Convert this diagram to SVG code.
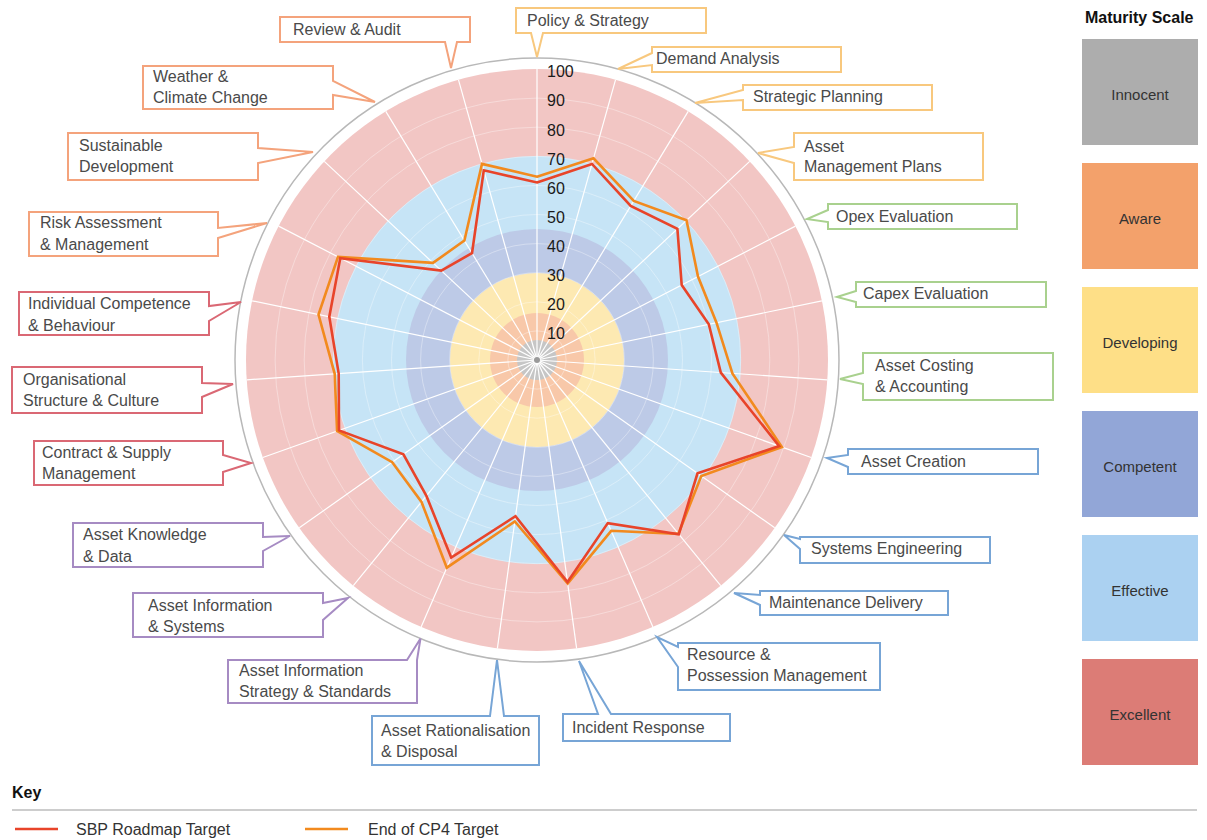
<svg xmlns="http://www.w3.org/2000/svg" width="1207" height="840" viewBox="0 0 1207 840">
<style>
  text { font-family: "Liberation Sans", Arial, sans-serif; font-size: 16px; fill: #4a4a4a; }
  .axis { fill: #1a1a1a; }
  .lg { font-size: 15px; fill: #333; text-anchor: middle; }
  .bold { font-weight: bold; fill: #111; }
  .key { fill: #333; }
  .co { fill: #fff; stroke-width: 2; stroke-linejoin: miter; }
  .c-y { stroke: #f8c87e; }
  .c-s { stroke: #f4a37c; }
  .c-g { stroke: #a9d18e; }
  .c-b { stroke: #77a5d6; }
  .c-p { stroke: #a68bc3; }
  .c-r { stroke: #da6874; }
  .spoke { stroke: #fff; stroke-width: 1.2; }
  .ring { fill: none; stroke: #fff; stroke-opacity: 0.35; stroke-width: 1; }
  .sbp { fill: none; stroke: #e8442a; stroke-width: 2.6; stroke-linejoin: miter; }
  .cp4 { fill: none; stroke: #f28a1e; stroke-width: 2.6; stroke-linejoin: miter; }
</style>

<g id="chart-background">
  <circle cx="537" cy="360" r="302" fill="#fff" stroke="#b8b8b8" stroke-width="1.5"/>
  <circle cx="537" cy="360" r="291" fill="#f2c6c4"/>
  <circle cx="537" cy="360" r="204" fill="#c6e4f6"/>
  <circle cx="537" cy="360" r="131" fill="#bdcae7"/>
  <circle cx="537" cy="360" r="87" fill="#fde9b2"/>
  <circle cx="537" cy="360" r="47" fill="#f8c8a9"/>
  <circle cx="537" cy="360" r="20" fill="#c6c6c6"/>
  <g class="rings">
    <circle class="ring" cx="537" cy="360" r="29.1"/>
    <circle class="ring" cx="537" cy="360" r="58.2"/>
    <circle class="ring" cx="537" cy="360" r="87.3"/>
    <circle class="ring" cx="537" cy="360" r="116.4"/>
    <circle class="ring" cx="537" cy="360" r="145.5"/>
    <circle class="ring" cx="537" cy="360" r="174.6"/>
    <circle class="ring" cx="537" cy="360" r="203.7"/>
    <circle class="ring" cx="537" cy="360" r="232.8"/>
    <circle class="ring" cx="537" cy="360" r="261.9"/>
  </g>
  <g class="spokes">
    <line class="spoke" x1="537" y1="360" x2="537" y2="69"/>
    <line class="spoke" x1="537" y1="360" x2="615.5" y2="79.8"/>
    <line class="spoke" x1="537" y1="360" x2="688.2" y2="111.4"/>
    <line class="spoke" x1="537" y1="360" x2="749.7" y2="161.4"/>
    <line class="spoke" x1="537" y1="360" x2="795.4" y2="226.1"/>
    <line class="spoke" x1="537" y1="360" x2="821.9" y2="300.8"/>
    <line class="spoke" x1="537" y1="360" x2="827.3" y2="379.8"/>
    <line class="spoke" x1="537" y1="360" x2="811.2" y2="457.5"/>
    <line class="spoke" x1="537" y1="360" x2="774.7" y2="527.8"/>
    <line class="spoke" x1="537" y1="360" x2="720.7" y2="585.7"/>
    <line class="spoke" x1="537" y1="360" x2="652.9" y2="626.9"/>
    <line class="spoke" x1="537" y1="360" x2="576.6" y2="648.3"/>
    <line class="spoke" x1="537" y1="360" x2="497.4" y2="648.3"/>
    <line class="spoke" x1="537" y1="360" x2="421.1" y2="626.9"/>
    <line class="spoke" x1="537" y1="360" x2="353.3" y2="585.7"/>
    <line class="spoke" x1="537" y1="360" x2="299.3" y2="527.8"/>
    <line class="spoke" x1="537" y1="360" x2="262.8" y2="457.5"/>
    <line class="spoke" x1="537" y1="360" x2="246.7" y2="379.8"/>
    <line class="spoke" x1="537" y1="360" x2="252.1" y2="300.8"/>
    <line class="spoke" x1="537" y1="360" x2="278.6" y2="226.1"/>
    <line class="spoke" x1="537" y1="360" x2="324.3" y2="161.4"/>
    <line class="spoke" x1="537" y1="360" x2="385.8" y2="111.4"/>
    <line class="spoke" x1="537" y1="360" x2="458.5" y2="79.8"/>
  </g>
  <circle cx="537" cy="360" r="3" fill="#9a9a9a"/>
</g>

<g id="series">
  <polygon id="cp4-target" class="cp4" points="537,176.7 593.5,158.3 633.8,200.9 686.5,220.3 698,276.6 716.5,322.7 732.4,373.4 781.9,447 701.3,476 678.4,533.8 611.2,530.8 567.7,583.4 514.8,521.5 446.8,567.7 421.5,502 392.2,462.2 337.1,431 334.7,373.8 318.5,314.6 338,256.9 433,262.9 464.4,240.6 482,163.9"/>
  <polygon id="sbp-target" class="sbp" points="537,182.5 592,163.9 630.7,205.9 677.4,228.9 681.7,285 708.8,324.3 720.8,372.6 779.2,446.1 697.5,473.3 678.8,534.3 607.8,523.1 567.5,582 515.5,516.2 451.2,557.5 426.4,495.9 403.4,454.3 339,430.4 338.7,373.6 329.3,316.8 340.3,258.1 441.3,270.6 472,253.1 483.8,170.3"/>
</g>

<g id="axis-labels">
  <text class="axis" x="547" y="77.3">100</text>
  <text class="axis" x="547" y="106.4">90</text>
  <text class="axis" x="547" y="135.5">80</text>
  <text class="axis" x="547" y="164.6">70</text>
  <text class="axis" x="547" y="193.7">60</text>
  <text class="axis" x="547" y="222.8">50</text>
  <text class="axis" x="547" y="251.9">40</text>
  <text class="axis" x="547" y="281">30</text>
  <text class="axis" x="547" y="310.1">20</text>
  <text class="axis" x="547" y="339.2">10</text>
</g>

<g id="connectors">
</g>

<g id="callouts">
  <g id="policy-strategy">
    <path class="co c-y" d="M516,8 H706 V33 H543 L537,57 L531,33 H516 Z"/>
    <text x="527" y="26">Policy &amp; Strategy</text>
  </g>
  <g id="demand-analysis">
    <path class="co c-y" d="M652,47 H841 V72 H652 V65 L618,69 L652,53 Z"/>
    <text x="656" y="64">Demand Analysis</text>
  </g>
  <g id="strategic-planning">
    <path class="co c-y" d="M743,85 H932 V110 H743 V100 L695,103 L743,90 Z"/>
    <text x="753" y="102">Strategic Planning</text>
  </g>
  <g id="asset-management-plans">
    <path class="co c-y" d="M794,133 H983 V180 H794 V163 L758,153 L794,147 Z"/>
    <text x="804" y="152">Asset</text>
    <text x="804" y="172">Management Plans</text>
  </g>
  <g id="opex-evaluation">
    <path class="co c-g" d="M828,204 H1017 V229 H828 V222 L807,219 L828,210 Z"/>
    <text x="836" y="222">Opex Evaluation</text>
  </g>
  <g id="capex-evaluation">
    <path class="co c-g" d="M856,282 H1046 V307 H856 V302 L837,297 L856,291 Z"/>
    <text x="863" y="299">Capex Evaluation</text>
  </g>
  <g id="asset-costing">
    <path class="co c-g" d="M863,353 H1053 V400 H863 V384 L840,379 L863,373 Z"/>
    <text x="875" y="371">Asset Costing</text>
    <text x="875" y="392">&amp; Accounting</text>
  </g>
  <g id="asset-creation">
    <path class="co c-b" d="M848,449 H1038 V474 H848 V467 L827,458 L848,455 Z"/>
    <text x="861" y="467">Asset Creation</text>
  </g>
  <g id="systems-engineering">
    <path class="co c-b" d="M800,537 H990 V563 H800 V549 L784,535 L800,539 Z"/>
    <text x="811" y="554">Systems Engineering</text>
  </g>
  <g id="maintenance-delivery">
    <path class="co c-b" d="M760,591 H948 V615 H760 V605 L734,593 L760,595 Z"/>
    <text x="769" y="608">Maintenance Delivery</text>
  </g>
  <g id="resource-possession">
    <path class="co c-b" d="M678,643 H880 V690 H678 V667 L657,637 L678,647 Z"/>
    <text x="687" y="660">Resource &amp;</text>
    <text x="687" y="681">Possession Management</text>
  </g>
  <g id="incident-response">
    <path class="co c-b" d="M563,714 H598 L579,661 L611,714 H730 V741 H563 Z"/>
    <text x="572" y="733">Incident Response</text>
  </g>
  <g id="asset-rationalisation">
    <path class="co c-b" d="M372,716 H490 L497,660 L504,716 H539 V765 H372 Z"/>
    <text x="381" y="736">Asset Rationalisation</text>
    <text x="381" y="757">&amp; Disposal</text>
  </g>
  <g id="asset-information-strategy">
    <path class="co c-p" d="M228,660 H407 L420.5,638.5 L417,660 V703 H228 Z"/>
    <text x="239" y="676">Asset Information</text>
    <text x="239" y="697">Strategy &amp; Standards</text>
  </g>
  <g id="asset-information-systems">
    <path class="co c-p" d="M133,593 H323 V603 L348,598 L323,620 V637 H133 Z"/>
    <text x="148" y="611">Asset Information</text>
    <text x="148" y="632">&amp; Systems</text>
  </g>
  <g id="asset-knowledge">
    <path class="co c-p" d="M73,523 H263 V537 L290,536 L263,551 V567 H73 Z"/>
    <text x="83" y="540">Asset Knowledge</text>
    <text x="83" y="562">&amp; Data</text>
  </g>
  <g id="contract-supply">
    <path class="co c-r" d="M34,441 H223 V455 L251,463 L223,472 V485 H34 Z"/>
    <text x="42" y="458">Contract &amp; Supply</text>
    <text x="42" y="479">Management</text>
  </g>
  <g id="organisational-structure">
    <path class="co c-r" d="M12,367 H202 V383 L233,384 L202,397 V413 H12 Z"/>
    <text x="23" y="385">Organisational</text>
    <text x="23" y="406">Structure &amp; Culture</text>
  </g>
  <g id="individual-competence">
    <path class="co c-r" d="M19,292 H209 V306 L241,302 L209,321 V335 H19 Z"/>
    <text x="28" y="309">Individual Competence</text>
    <text x="28" y="331">&amp; Behaviour</text>
  </g>
  <g id="risk-assessment">
    <path class="co c-s" d="M29,212 H218 V228 L267,223 L218,238 V256 H29 Z"/>
    <text x="40" y="228">Risk Assessment</text>
    <text x="40" y="250">&amp; Management</text>
  </g>
  <g id="sustainable-development">
    <path class="co c-s" d="M68,133 H258 V148 L313,152 L258,163 V180 H68 Z"/>
    <text x="79" y="151">Sustainable</text>
    <text x="79" y="172">Development</text>
  </g>
  <g id="weather-climate">
    <path class="co c-s" d="M143,66 H333 V81 L375,102 L333,95 V109 H143 Z"/>
    <text x="153" y="82">Weather &amp;</text>
    <text x="153" y="103">Climate Change</text>
  </g>
  <g id="review-audit">
    <path class="co c-s" d="M280,17 H470 V42 H457 L451,68 L445,42 H280 Z"/>
    <text x="293" y="35">Review &amp; Audit</text>
  </g>
</g>

<g id="maturity-scale">
  <text class="bold" x="1085" y="23">Maturity Scale</text>
  <g id="scale-innocent"><rect x="1082" y="39" width="116" height="106" fill="#adadad"/><text class="lg" x="1140" y="100">Innocent</text></g>
  <g id="scale-aware"><rect x="1082" y="163" width="116" height="106" fill="#f3a16b"/><text class="lg" x="1140" y="224">Aware</text></g>
  <g id="scale-developing"><rect x="1082" y="287" width="116" height="106" fill="#fedf87"/><text class="lg" x="1140" y="348">Developing</text></g>
  <g id="scale-competent"><rect x="1082" y="411" width="116" height="106" fill="#92a6d7"/><text class="lg" x="1140" y="472">Competent</text></g>
  <g id="scale-effective"><rect x="1082" y="535" width="116" height="106" fill="#abd1f1"/><text class="lg" x="1140" y="596">Effective</text></g>
  <g id="scale-excellent"><rect x="1082" y="659" width="116" height="106" fill="#dc7c76"/><text class="lg" x="1140" y="720">Excellent</text></g>
</g>

<g id="key">
  <text class="bold" x="12" y="798">Key</text>
  <line x1="12" y1="810" x2="1197" y2="810" stroke="#bdbdbd" stroke-width="1.5"/>
  <line x1="15" y1="829" x2="58" y2="829" stroke="#e8442a" stroke-width="2.6"/>
  <text class="key" x="76" y="835">SBP Roadmap Target</text>
  <line x1="305" y1="829" x2="348" y2="829" stroke="#f28a1e" stroke-width="2.6"/>
  <text class="key" x="368" y="835">End of CP4 Target</text>
</g>
</svg>
